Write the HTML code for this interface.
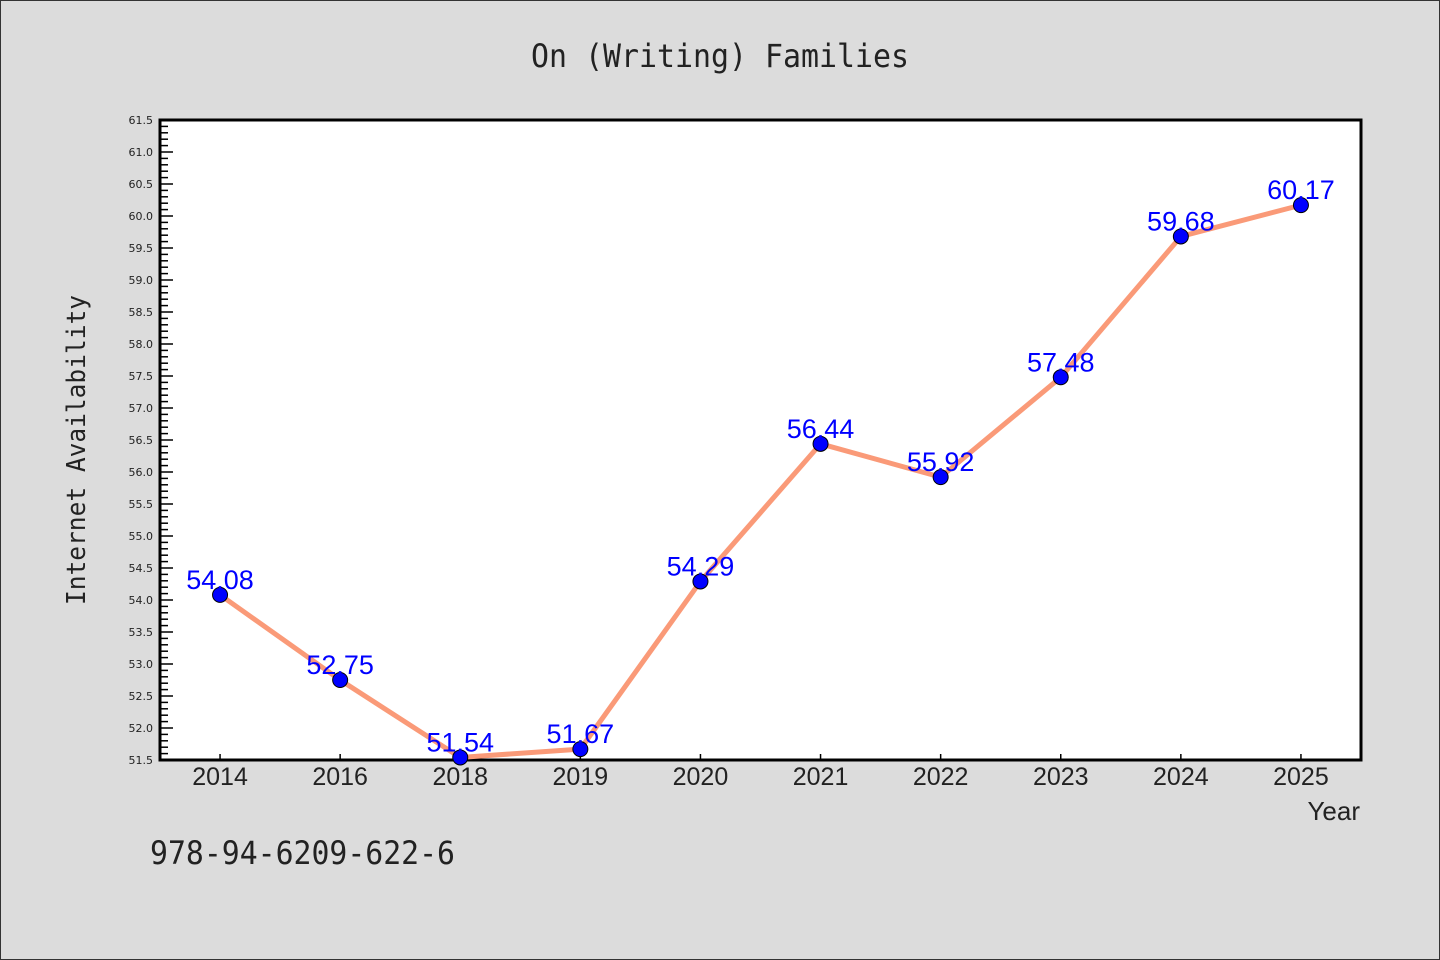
<!DOCTYPE html>
<html><head><meta charset="utf-8"><style>
html,body{margin:0;padding:0;background:#dcdcdc}
svg{display:block}
</style></head><body>
<svg id="chart" width="1440" height="960" xmlns="http://www.w3.org/2000/svg">
<rect x="0.5" y="0.5" width="1439" height="959" fill="#dcdcdc" stroke="#333" stroke-width="1"/>
<text x="720" y="67" text-anchor="middle" font-family="'WenQuanYi Zen Hei Mono','WenQuanYi Zen Hei',monospace" font-size="32" textLength="378" lengthAdjust="spacingAndGlyphs" fill="#222">On (Writing) Families</text>
<rect x="160" y="120" width="1201" height="640" fill="#fff" stroke="#000" stroke-width="3"/>
<g id="yaxis"></g>
<g id="xaxis"></g>
<g id="series"></g>
<text transform="translate(85,450) rotate(-90)" text-anchor="middle" font-family="'WenQuanYi Zen Hei Mono','WenQuanYi Zen Hei',monospace" font-size="26" textLength="310" lengthAdjust="spacingAndGlyphs" fill="#222">Internet Availability</text>
<text x="1360" y="820" text-anchor="end" font-family="'WenQuanYi Zen Hei',sans-serif" font-size="26" fill="#222">Year</text>
<text x="150" y="864" font-family="'WenQuanYi Zen Hei Mono','WenQuanYi Zen Hei',monospace" font-size="32" textLength="305" lengthAdjust="spacingAndGlyphs" fill="#222">978-94-6209-622-6</text>
</svg>
<script>
const categories = ["2014","2016","2018","2019","2020","2021","2022","2023","2024","2025"];
const values = [54.08,52.75,51.54,51.67,54.29,56.44,55.92,57.48,59.68,60.17];
const valueLabels = ["54.08","52.75","51.54","51.67","54.29","56.44","55.92","57.48","59.68","60.17"];
const yMin = 51.5, yMax = 61.5, yStep = 0.5;
const NS="http://www.w3.org/2000/svg";
const L=160,R=1361,T=120,B=760;
const xPos=i=>L+(R-L)/categories.length*(i+0.5);
const yPos=v=>B-(v-yMin)/(yMax-yMin)*(B-T);
function mk(tag,attrs,parent){const e=document.createElementNS(NS,tag);for(const k in attrs)e.setAttribute(k,attrs[k]);parent.appendChild(e);return e;}
const ya=document.getElementById('yaxis'),xa=document.getElementById('xaxis'),sg=document.getElementById('series');
const nMinor=Math.round((yMax-yMin)/0.1);
for(let k=0;k<=nMinor;k++){const v=yMin+k*0.1;const y=yPos(v);const major=k%5===0;
 const t=mk('line',{x1:L,x2:L+(major?13:8),y1:y,y2:y,stroke:'#000','stroke-width':1.5},ya);
 
 
 if(major){const tx=mk('text',{x:L-7,y:y+4,'text-anchor':'end','font-family':"'DejaVu Sans',sans-serif",'font-size':11,fill:'#222'},ya);
  tx.textContent=v.toFixed(1);
  
  }
}
categories.forEach((c,i)=>{const x=xPos(i);
 const t=mk('line',{x1:x,x2:x,y1:B,y2:B-6,stroke:'#000','stroke-width':1.5},xa);
 
 
 const tx=mk('text',{x:x,y:B+25,'text-anchor':'middle','font-family':"'WenQuanYi Zen Hei',sans-serif",'font-size':25,fill:'#222'},xa);
 tx.textContent=c;
 
 
});
const pl=mk('polyline',{points:values.map((v,i)=>xPos(i)+','+yPos(v)).join(' '),fill:'none',stroke:'#fa9a78','stroke-width':5,'stroke-linejoin':'round'},sg);


values.forEach((v,i)=>{
 const c=mk('circle',{cx:xPos(i),cy:yPos(v),r:7.5,fill:'#0000ff',stroke:'#000','stroke-width':1},sg);
 
 
});
values.forEach((v,i)=>{
 const t=mk('text',{x:xPos(i),y:yPos(v)-6,'text-anchor':'middle','font-family':"'Liberation Sans',sans-serif",'font-size':27,fill:'#0000ff'},sg);
 t.textContent=valueLabels[i];
 
 
});
</script>
</body></html>
